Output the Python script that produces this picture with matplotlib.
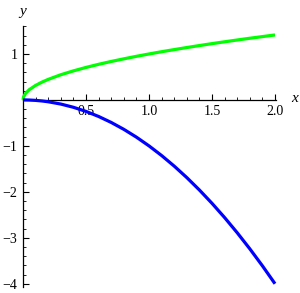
import numpy as np
import matplotlib
matplotlib.use("Agg")
import matplotlib.pyplot as plt
from matplotlib.ticker import MultipleLocator, FixedLocator, FixedFormatter

xs = [0, 0.005, 0.02, 0.05, 0.1, 0.15, 0.2, 0.3, 0.4, 0.5, 0.6, 0.7, 0.8, 0.9, 1.0,
      1.1, 1.2, 1.3, 1.4, 1.5, 1.6, 1.7, 1.8, 1.9, 2.0]
green_y = [0, 0.071, 0.141, 0.224, 0.316, 0.387, 0.447, 0.548, 0.632, 0.707, 0.775, 0.837,
           0.894, 0.949, 1.0, 1.049, 1.095, 1.140, 1.183, 1.225, 1.265, 1.304, 1.342, 1.378, 1.414]
blue_y = [0, -0.000025, -0.0004, -0.0025, -0.01, -0.0225, -0.04, -0.09, -0.16, -0.25, -0.36,
          -0.49, -0.64, -0.81, -1.0, -1.21, -1.44, -1.69, -1.96, -2.25, -2.56, -2.89, -3.24,
          -3.61, -4.0]

xticks = [0.5, 1.0, 1.5, 2.0]
xticklabels = ["0.5", "1.0", "1.5", "2.0"]
yticks = [-4, -3, -2, -1, 1]
yticklabels = ["\u22124", "\u22123", "\u22122", "\u22121", "1"]

W, H = 300, 293
fig = plt.figure(figsize=(W / 100, H / 100), dpi=100)
x0, x1 = 23, 275       # pixel positions of x=0 and x=2
ytop, ybot = 26.4, 286.5
ax = fig.add_axes([x0 / W, (H - ybot) / H, (x1 - x0) / W, (ybot - ytop) / H])
ax.set_xlim(0, 2.0)
ax.set_ylim(-4.06, 1.6)

ax.plot(xs, green_y, color="#00ff00", lw=2.3, solid_capstyle="butt", zorder=3, clip_on=False)
ax.plot(xs, blue_y, color="#0000ff", lw=2.3, solid_capstyle="butt", zorder=3, clip_on=False)

for s in ["top", "right"]:
    ax.spines[s].set_visible(False)
ax.spines["left"].set_position(("data", 0))
ax.spines["bottom"].set_position(("data", 0))
for s in ["left", "bottom"]:
    ax.spines[s].set_linewidth(0.9)
ax.spines["bottom"].set_bounds(0, 2.01)

font = "Liberation Serif"
ax.xaxis.set_major_locator(FixedLocator(xticks))
ax.xaxis.set_major_formatter(FixedFormatter(xticklabels))
ax.xaxis.set_minor_locator(MultipleLocator(0.1))
ax.yaxis.set_major_locator(FixedLocator(yticks))
ax.yaxis.set_major_formatter(FixedFormatter(yticklabels))
ax.yaxis.set_minor_locator(MultipleLocator(0.2))
ax.tick_params(which="major", direction="in", length=4, width=0.8, pad=4, labelsize=10)
ax.tick_params(which="minor", direction="in", length=2.2, width=0.6)
for lab in ax.get_xticklabels() + ax.get_yticklabels():
    lab.set_fontfamily(font)

fig.text(23 / W, 1 - 11 / H, "y", family=font, style="italic", fontsize=11,
         ha="center", va="center")
fig.text(295 / W, 1 - 99 / H, "x", family=font, style="italic", fontsize=11,
         ha="center", va="center")

fig.savefig("out.png", dpi=100)
